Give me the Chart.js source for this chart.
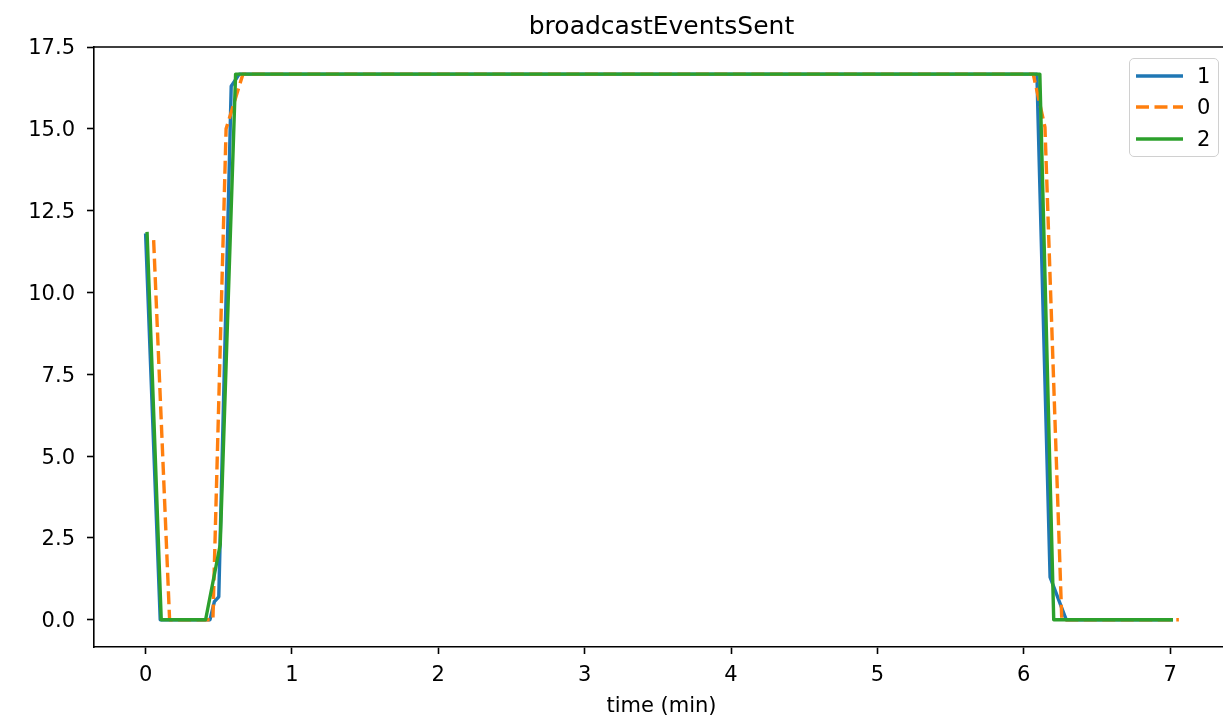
<!DOCTYPE html>
<html>
<head>
<meta charset="utf-8">
<script src="https://cdn.jsdelivr.net/npm/chart.js@4.4.0/dist/chart.umd.min.js"></script>
<style>
    body { margin: 0; background: #fff; }
    #wrap { position: relative; width: 1223px; height: 719px; overflow: hidden; }
    #legend {
        position: absolute; left: 1129px; top: 58px; width: 90px; height: 99px;
        border: 1px solid #d0d0d0; border-radius: 5px; background: rgba(255,255,255,0.8);
        box-sizing: border-box; font-family: 'DejaVu Sans', sans-serif; font-size: 21px;
    }
    .item { position: absolute; left: 0; height: 24px; }
    .item svg { position: absolute; left: 6px; top: 0; }
    .item span { position: absolute; left: 67px; top: 0; line-height: 24px; }
</style>
</head>
<body>
<div id="wrap">
    <!-- the axes run a little past the right edge of the picture, so the canvas is wider and clipped -->
    <canvas id="chart" width="1231" height="719"></canvas>
    <div id="legend"></div>
</div>
<script>
// data
const seriesNames = ['1', '0', '2'];
const seriesColors = ['#1f77b4', '#ff7f0e', '#2ca02c'];

const time1 = [0, 0.10, 0.44, 0.47, 0.50, 0.585, 0.64, 6.09, 6.18, 6.29, 7.02];
const value1 = [11.8, 0, 0, 0.55, 0.7, 16.3, 16.67, 16.67, 1.3, 0, 0];

const time0 = [0.055, 0.164, 0.46, 0.55, 0.665, 6.065, 6.145, 6.26, 7.06];
const value0 = [11.6, 0, 0, 15.0, 16.67, 16.67, 15.05, 0, 0];

const time2 = [0.01, 0.107, 0.41, 0.51, 0.615, 6.11, 6.205, 7.02];
const value2 = [11.85, 0, 0, 2.3, 16.67, 16.67, 0, 0];

const xTicks = [0, 1, 2, 3, 4, 5, 6, 7];
const yTicks = [0, 2.5, 5, 7.5, 10, 12.5, 15, 17.5];

function toPoints(xs, ys) {
    return xs.map((x, i) => ({ x: x, y: ys[i] }));
}

Chart.defaults.font.family = "'DejaVu Sans', sans-serif";
Chart.defaults.color = '#000';

const spines = {
    id: 'spines',
    afterDraw(chart) {
        const a = chart.chartArea;
        const ctx = chart.ctx;
        ctx.save();
        ctx.strokeStyle = '#000';
        ctx.lineWidth = 1.6;
        ctx.beginPath();
        ctx.moveTo(a.left, a.top);
        ctx.lineTo(a.right, a.top);
        ctx.lineTo(a.right, a.bottom);
        ctx.stroke();
        ctx.restore();
    }
};

const axisCommon = {
    type: 'linear',
    border: { display: true, color: '#000', width: 1.6 },
    grid: { display: true, drawOnChartArea: false, drawTicks: true, tickLength: 7, tickColor: '#000', tickWidth: 1.6 }
};

new Chart(document.getElementById('chart'), {
    type: 'line',
    data: {
        datasets: [
            { label: seriesNames[0], data: toPoints(time1, value1), borderColor: seriesColors[0], order: 2 },
            { label: seriesNames[1], data: toPoints(time0, value0), borderColor: seriesColors[1], borderDash: [13, 5.5], order: 1 },
            { label: seriesNames[2], data: toPoints(time2, value2), borderColor: seriesColors[2], order: 0 }
        ]
    },
    options: {
        responsive: false,
        animation: false,
        layout: { padding: { left: 0, right: 2, top: 0, bottom: 0 } },
        elements: {
            line: { borderWidth: 3.4, tension: 0, fill: false, borderJoinStyle: 'round', borderCapStyle: 'butt' },
            point: { radius: 0 }
        },
        plugins: {
            legend: { display: false },
            tooltip: { enabled: false },
            title: {
                display: true,
                text: 'broadcastEventsSent',
                fullSize: false,
                font: { size: 25, weight: 'normal' },
                padding: { top: 12.4, bottom: 4.6 }
            }
        },
        scales: {
            x: Object.assign({}, axisCommon, {
                min: -0.3525,
                max: 7.4025,
                afterBuildTicks: s => { s.ticks = xTicks.map(v => ({ value: v })); },
                afterFit: s => { s.height = 72; },
                ticks: { font: { size: 21 }, padding: 9, maxRotation: 0, callback: v => String(v) },
                title: { display: true, text: 'time (min)', font: { size: 21 }, padding: { top: 0, bottom: 0 } }
            }),
            y: Object.assign({}, axisCommon, {
                min: -0.8335,
                max: 17.5,
                afterBuildTicks: s => { s.ticks = yTicks.map(v => ({ value: v })); },
                afterFit: s => { s.width = 94; },
                ticks: { font: { size: 21 }, padding: 12, labelOffset: 2, callback: v => v.toFixed(1) }
            })
        }
    },
    plugins: [spines]
});

// legend drawn as html so it can sit inside the plot
const legend = document.getElementById('legend');
const rowTops = [5, 36, 68];
seriesNames.forEach((name, i) => {
    const dash = i === 1 ? ' stroke-dasharray="13 5.5"' : '';
    const row = document.createElement('div');
    row.className = 'item';
    row.style.top = rowTops[i] + 'px';
    row.innerHTML = '<svg width="50" height="24"><line x1="0" y1="12" x2="47" y2="12" stroke="' +
        seriesColors[i] + '" stroke-width="3.4"' + dash + '/></svg><span>' + name + '</span>';
    legend.appendChild(row);
});
</script>
</body>
</html>
